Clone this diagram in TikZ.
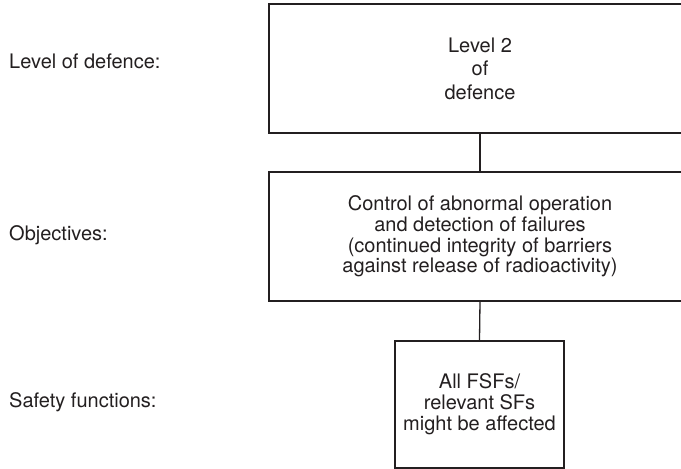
\documentclass[tikz,border=0pt]{standalone}
\usepackage{fontspec}
\setmainfont{TeX Gyre Heros}
\definecolor{ink}{RGB}{35,31,32}
\begin{document}
\begin{tikzpicture}[x=1pt,y=-1pt,
  every node/.style={text=ink, font=\fontsize{20}{20.8}\selectfont},
  box/.style={draw=ink, line width=1.3pt, inner sep=0pt, align=center},
  rowlabel/.style={anchor=base west, inner sep=0pt},
  link/.style={draw=ink, line width=1.3pt}]
\useasboundingbox (0,0) rectangle (681,469);
% the three stacked boxes (the two wide ones run past the right edge)
\node[box, minimum width=422pt, minimum height=129pt,
      font=\fontsize{20}{23.6}\selectfont] (lvl) at (480,68.5)
  {Level 2\\of\\defence};
\node[box, minimum width=422pt, minimum height=129pt] (obj) at (480,236.5)
  {Control of abnormal operation\\and detection of failures\\(continued integrity of barriers\\against release of radioactivity)};
\node[box, minimum width=169pt, minimum height=127pt] (sf) at (479.5,404.5)
  {All FSFs/\\relevant SFs\\might be affected};
% connectors
\draw[link] (lvl.south) -- (obj.north);
\draw[link] (obj.south) -- (sf.north);
% row headings
\node[rowlabel] (hlvl) at (9,68) {Level of defence:};
\node[rowlabel] (hobj) at (9,240) {Objectives:};
\node[rowlabel] (hsf) at (9,407) {Safety functions:};
\end{tikzpicture}
\end{document}
